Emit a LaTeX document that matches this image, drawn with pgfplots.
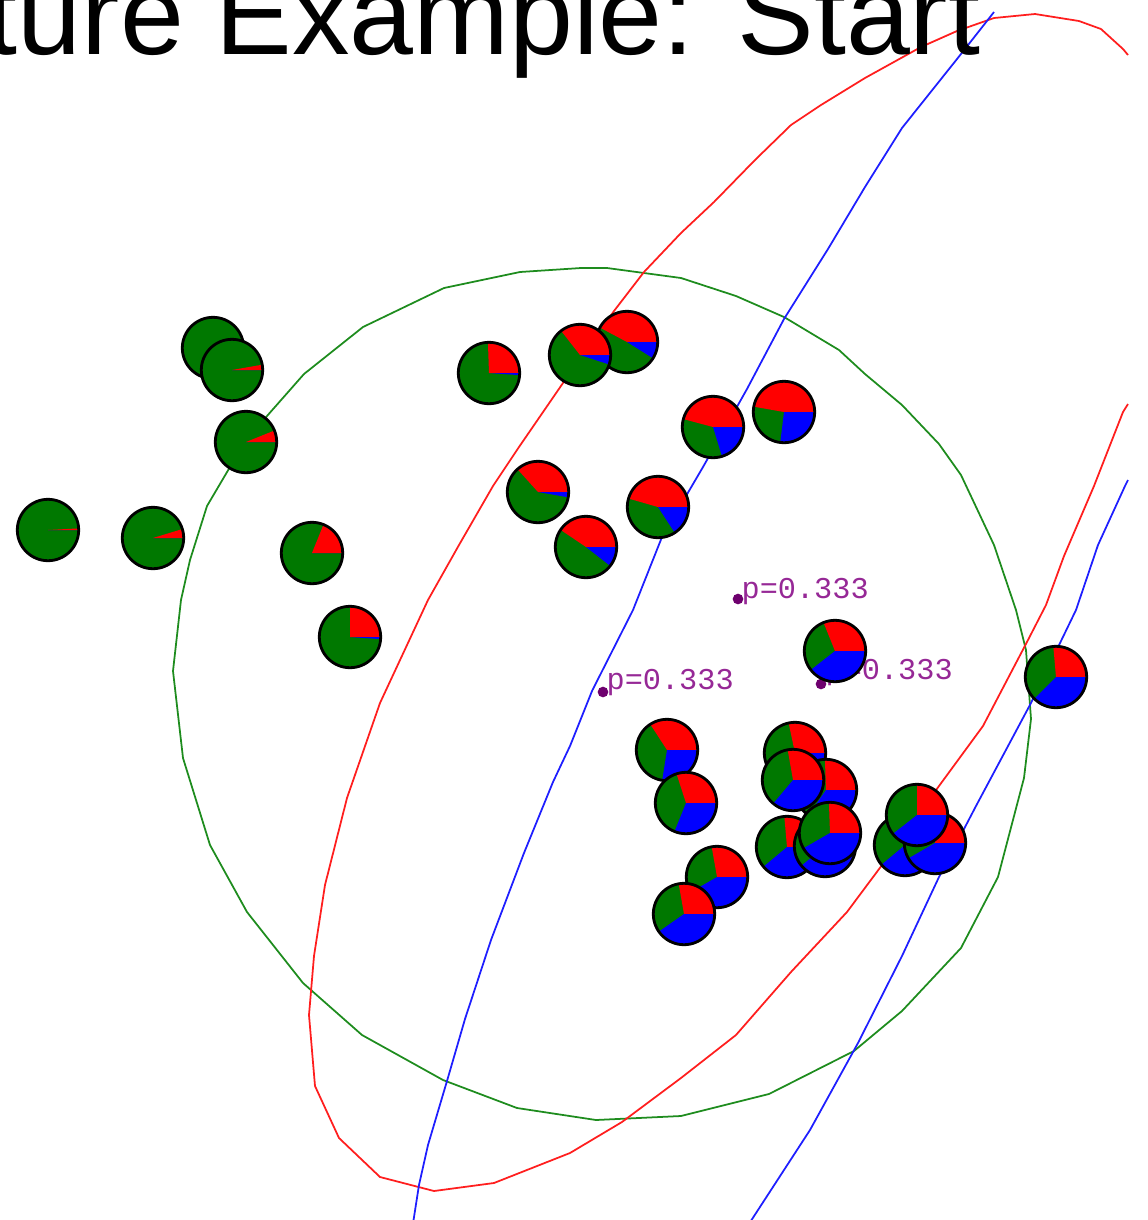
\documentclass[border=0pt]{standalone}
\usepackage{pgfplots}
\pgfplotsset{compat=1.18}
\usepackage{pgfplotstable}
\usepackage{fontspec}
\newfontfamily\titlefont{Liberation Sans}
\newfontfamily\lblfont{Liberation Mono}
\definecolor{pgreen}{RGB}{0,120,0}
\definecolor{ellgreen}{RGB}{30,140,30}
\definecolor{ellred}{RGB}{255,30,30}
\definecolor{ellblue}{RGB}{30,30,255}
\definecolor{lblpurple}{RGB}{150,40,150}
\definecolor{dotpurple}{RGB}{110,0,110}
\newlength\pierad \setlength\pierad{3.07mm}
\pgfdeclareplotmark{pie}{%
  \pgfpathcircle{\pgfpointorigin}{\pierad}%
  \pgfsetfillcolor{pgreen}\pgfusepath{fill}%
  \pgfpathmoveto{\pgfpointorigin}%
  \pgfpathlineto{\pgfpointpolar{0}{\pierad}}%
  \pgfpatharc{0}{\pieR}{\pierad}%
  \pgfpathclose
  \pgfsetfillcolor{red}\pgfusepath{fill}%
  \pgfpathmoveto{\pgfpointorigin}%
  \pgfpathlineto{\pgfpointpolar{-\pieB}{\pierad}}%
  \pgfpatharc{-\pieB}{0}{\pierad}%
  \pgfpathclose
  \pgfsetfillcolor{blue}\pgfusepath{fill}%
  \pgfsetlinewidth{0.8pt}\pgfsetstrokecolor{black}%
  \pgfpathcircle{\pgfpointorigin}{\pierad}\pgfusepath{stroke}%
}
\pgfplotstableread{
x y ra ba
213 348 2 0
232 370 10 0
246 442 22 0
48 530 3 0
153 538 17 0
312 553 68 0
350 637 90 4
489 373 92 4
627 342 152 32
580 355 128 18
713 427 165 73
784 412 170 97
538 492 132 10
586 547 146 38
658 507 164 57
835 651 112 142
1056 677 95 135
667 750 123 99
686 803 108 112
795 753 102 110
826 790 92 125
793 780 100 130
787 847 95 140
825 846 90 140
830 833 92 150
717 877 100 150
684 914 100 145
905 845 90 140
935 843 90 150
917 815 90 142
}\pies
\begin{document}
\begin{tikzpicture}
\begin{axis}[
  at={(0,0)}, anchor=south west,
  scale only axis, width=114.8mm, height=122mm,
  xmin=0, xmax=1148, ymin=0, ymax=1220, y dir=reverse,
  hide axis, clip mode=individual,
]
% green component contour
\addplot[ellgreen, line width=0.5pt, mark=none] coordinates {
(581,268) (607,268) (681,278) (736,296) (784,317) (839,350) (865,374) (902,405)
(939,444) (961,475) (994,545) (1016,610) (1026,650) (1031,719) (1024,778) (998,877)
(961,948) (902,1011) (854,1051) (769,1094) (681,1116) (596,1120) (517,1108) (443,1080)
(362,1035) (303,983) (247,912) (210,845) (183,758) (173,671) (181,600) (190,560)
(207,506) (230,467) (267,416) (304,374) (363,327) (444,288) (520,272) (581,268)};
% red component contour (cut at the right edge of the plot region)
\addplot[ellred, line width=0.5pt, mark=none] coordinates {
(1128,404) (1123,412) (1094,486) (1064,556) (1046,605) (1028,640) (983,726)
(939,786) (891,853) (847,912) (791,972) (736,1035) (681,1078) (622,1122) (570,1153)
(494,1183) (434,1191) (380,1177) (339,1138) (315,1086) (309,1015) (314,956) (325,885)
(347,798) (380,703) (428,600) (459,545) (493,486) (519,447) (563,383) (614,311)
(644,272) (681,233) (714,202) (755,160) (791,125) (821,105) (865,78) (921,47)
(957,31) (994,18) (1035,14) (1079,21) (1101,29) (1123,49) (1128,55)};
% blue component contour (two long sides)
\addplot[ellblue, line width=0.5pt, mark=none] coordinates {
(994,12) (961,54) (902,128) (865,187) (828,249) (784,319) (747,389)
(703,467) (662,537) (633,610) (592,691) (570,746) (553,782) (524,853) (491,940)
(465,1019) (447,1081) (428,1145) (419,1185) (412,1230)};
\addplot[ellblue, line width=0.5pt, mark=none] coordinates {
(1128,480) (1125,486) (1098,545) (1076,610) (1031,703) (976,806) (939,877)
(902,956) (858,1043) (810,1130) (745,1230)};
% component means
\addplot[only marks, mark=*, mark size=1.3pt, color=dotpurple] coordinates {
(738,599) (603,692) (821,684)};
\node[anchor=base west, inner sep=0pt, text=lblpurple,
  font=\lblfont\fontsize{8.6}{10}\selectfont] at (axis cs:741,598) {p=0.333};
\node[anchor=base west, inner sep=0pt, text=lblpurple,
  font=\lblfont\fontsize{8.6}{10}\selectfont] at (axis cs:606,689) {p=0.333};
\node[anchor=base west, inner sep=0pt, text=lblpurple,
  font=\lblfont\fontsize{8.6}{10}\selectfont] at (axis cs:825,679) {p=0.333};
% data points as pies
\addplot[scatter, only marks, mark=pie,
  scatter/@pre marker code/.code={},
  scatter/@post marker code/.code={},
  visualization depends on={\thisrow{ra} \as \pieR},
  visualization depends on={\thisrow{ba} \as \pieB},
] table[x=x, y=y] {\pies};
% title (extends beyond the page on the left and at the top, as in the reference)
\node[overlay, anchor=base east, inner sep=0pt,
  font=\titlefont\fontsize{32.7}{36}\selectfont] at (axis cs:981,54) {Mixture Example: Start};
\end{axis}
\path (0,0) rectangle (114.8mm,122mm);
\end{tikzpicture}
\end{document}
